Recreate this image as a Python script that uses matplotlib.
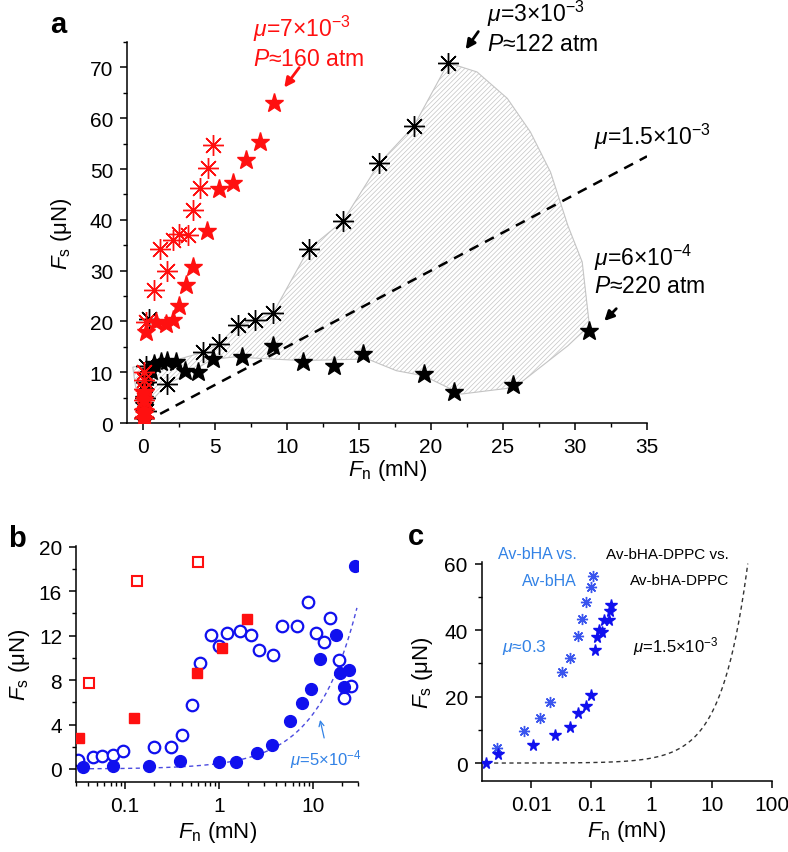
"""Friction data: shear vs normal force for three lubricated surface pairs."""

import matplotlib
matplotlib.use("Agg")
import matplotlib.pyplot as plt
import numpy as np
from matplotlib.ticker import MultipleLocator, NullFormatter

plt.rcParams["font.family"] = ["Liberation Sans", "DejaVu Sans"]
plt.rcParams["mathtext.fontset"] = "custom"
plt.rcParams["mathtext.rm"] = "Liberation Sans"
plt.rcParams["mathtext.it"] = "Liberation Sans:italic"
plt.rcParams["mathtext.bf"] = "Liberation Sans:bold"
plt.rcParams["hatch.linewidth"] = 0.5

# ---- panel a data (Fn in mN, Fs in uN) ----
red_star_x = [0.05, 0.05, 0.07, 0.1, 0.07, 0.2, 0.9, 1.6, 2.06, 2.5, 3.0, 3.45, 4.45, 5.3, 6.25, 7.15, 8.1, 9.1]
red_star_y = [0.8, 1.8, 2.4, 4.5, 6.0, 18.0, 19.9, 19.5, 20.2, 23.0, 27.1, 30.8, 37.7, 46.0, 47.3, 51.7, 55.4, 62.9]
red_ast_x = [0.05, 0.07, 0.07, 0.07, 0.1, 0.1, 0.2, 0.74, 1.67, 1.2, 2.1, 2.5, 3.1, 3.5, 4.0, 4.5, 4.9]
red_ast_y = [1.0, 2.8, 4.5, 6.7, 8.5, 10.0, 19.9, 26.1, 30.0, 34.2, 36.0, 37.2, 37.0, 42.0, 46.2, 50.1, 54.8]
blk_ast_x = [0.1, 0.2, 0.15, 0.2, 0.2, 0.44, 1.7, 4.15, 5.3, 6.6, 7.8, 9.05, 11.5, 13.9, 16.4, 18.8, 21.2]
blk_ast_y = [1.0, 2.4, 5.0, 8.0, 11.3, 20.5, 7.6, 13.9, 15.6, 19.3, 20.2, 21.7, 34.2, 39.8, 51.1, 58.4, 70.9]
blk_star_x = [0.05, 0.1, 0.1, 0.1, 0.14, 0.3, 0.55, 0.8, 1.25, 1.7, 2.3, 2.9, 3.85, 4.9, 6.9, 9.05,
              11.1, 13.3, 15.3, 19.5, 21.6, 25.7, 31.0]
blk_star_y = [0.5, 2.1, 3.5, 4.7, 7.4, 9.0, 10.3, 11.6, 12.1, 12.3, 12.0, 10.3, 10.1, 12.6, 13.0, 15.1,
              12.0, 11.3, 13.6, 9.7, 6.2, 7.4, 18.2]
# outline of the hatched band between the two black data sets
shade_x = [-0.7, 1.0, 2.4, 4.15, 5.3, 6.6, 7.8, 9.05, 11.5, 13.9, 16.4, 18.8, 21.2, 23.2, 25.3, 26.9,
           28.3, 29.5, 30.5, 31.0, 29.5, 25.8, 22.1, 19.5, 17.6, 15.6, 11.0, 6.3, 4.8, 3.0, 1.7, 0.8, -0.5]
shade_y = [11.0, 11.8, 12.5, 13.9, 15.6, 19.3, 20.2, 21.7, 34.2, 39.8, 51.1, 58.4, 70.9, 69.1, 63.9, 57.3,
           49.4, 38.9, 31.7, 19.2, 15.2, 7.0, 5.7, 9.3, 10.3, 12.6, 12.3, 13.0, 12.5, 9.5, 7.7, 5.0, 7.0]
mu_a = 1.5  # uN per mN  (mu = 1.5e-3)
line_a_x = [1.2, 35.0]

# ---- panel b data ----
b_red_fill_x = [0.0325, 0.124, 0.585, 1.06, 1.95]
b_red_fill_y = [2.77, 4.6, 8.66, 10.9, 13.5]
b_red_open_x = [0.041, 0.135, 0.594]
b_red_open_y = [7.76, 16.9, 18.6]
b_blue_fill_x = [0.036, 0.075, 0.18, 0.38, 0.99, 1.51, 2.53, 3.59, 5.61, 7.59, 9.53, 11.7, 17.5, 19.0,
                 23.7, 21.0, 27.4]
b_blue_fill_y = [0.15, 0.24, 0.3, 0.75, 0.6, 0.6, 1.41, 2.17, 4.36, 5.95, 7.2, 9.92, 12.03, 8.63,
                 8.87, 7.37, 18.26]
b_blue_open_x = [0.0318, 0.046, 0.0566, 0.075, 0.0937, 0.203, 0.305, 0.405, 0.509, 0.619, 0.81, 1.0,
                 1.22, 1.64, 2.15, 2.63, 3.7, 4.66, 6.71, 8.77, 10.7, 12.9, 14.9, 18.5, 21.0, 25.3]
b_blue_open_y = [0.84, 1.05, 1.14, 1.26, 1.65, 2.0, 2.0, 3.07, 5.77, 9.53, 12.03, 11.1, 12.2, 12.4,
                 12.1, 10.7, 10.3, 12.9, 12.9, 15.0, 12.2, 11.4, 13.6, 9.77, 6.4, 7.5]
mu_b = 0.5  # uN per mN  (mu = 5e-4)

# ---- panel c data ----
c_star_x = [0.00179, 0.00276, 0.0105, 0.0244, 0.0434, 0.0596, 0.082, 0.098, 0.113, 0.123, 0.136,
            0.149, 0.165, 0.193, 0.205, 0.213]
c_star_y = [0.0, 2.6, 5.5, 8.3, 10.95, 15.0, 17.3, 20.6, 34.1, 37.9, 40.1, 39.4, 42.9, 43.1, 45.9, 47.6]
c_ast_x = [0.0027, 0.00746, 0.0141, 0.0207, 0.0331, 0.0434, 0.059, 0.0695, 0.082, 0.098, 0.106]
c_ast_y = [4.5, 9.5, 13.5, 18.5, 27.3, 31.7, 38.2, 43.2, 48.6, 53.0, 56.3]
mu_c = 1.5  # uN per mN  (mu = 1.5e-3)

RED = "#ff1010"
BLUE = "#1010ee"
LBLUE = "#3282e6"
AST = (8, 2, 0)
FS = 15      # tick labels
LFS = 16     # axis labels
AFS = 16.5   # panel a notes


def style_axes(ax):
    ax.spines["top"].set_visible(False)
    ax.spines["right"].set_visible(False)
    for s in ("left", "bottom"):
        ax.spines[s].set_linewidth(1.1)
    ax.tick_params(which="major", direction="out", length=5, width=1.1, labelsize=FS, pad=5)
    ax.tick_params(which="minor", direction="out", length=3, width=1.0)


fig = plt.figure(figsize=(7.88, 8.53), dpi=100)

# ================= panel a =================
ax = fig.add_axes([0.1612, 0.5029, 0.6599, 0.4467])
ax.fill(shade_x, shade_y, facecolor="white", edgecolor="#c4c4c4", hatch="///////",
        linewidth=0.8, zorder=0)
ax.plot(line_a_x, [mu_a * v for v in line_a_x], color="black", lw=1.8, dashes=(4, 3), zorder=1)
ax.plot(blk_star_x, blk_star_y, ls="none", marker="*", ms=14, color="black", zorder=2)
ax.plot(blk_ast_x, blk_ast_y, ls="none", marker=AST, ms=15, mew=1.0, color="black", zorder=3)
ax.plot(red_star_x, red_star_y, ls="none", marker="*", ms=14, color=RED, zorder=4)
ax.plot(red_ast_x, red_ast_y, ls="none", marker=AST, ms=15, mew=1.0, color=RED, zorder=5)
ax.set_xlim(-1.1, 35)
ax.set_ylim(0, 75)
ax.xaxis.set_major_locator(MultipleLocator(5))
ax.xaxis.set_minor_locator(MultipleLocator(2.5))
ax.yaxis.set_major_locator(MultipleLocator(10))
ax.yaxis.set_minor_locator(MultipleLocator(5))
style_axes(ax)
ax.set_xlabel(r"$F_{\rm n}$ (mN)", fontsize=LFS, labelpad=1)
ax.set_ylabel(r"$F_{\rm s}$ (μN)", fontsize=LFS, labelpad=11)

ax.text(7.66, 77.7, r"$\mu$=7×10$^{-3}$", color=RED, fontsize=AFS, va="center", clip_on=False)
ax.text(7.66, 71.8, r"$P$≈160 atm", color=RED, fontsize=AFS, va="center", clip_on=False)
ax.annotate("", xy=(9.7, 65.6), xytext=(10.97, 70.4),
            arrowprops=dict(arrowstyle="-|>", color=RED, lw=2, mutation_scale=14), annotation_clip=False)
ax.text(23.9, 80.7, r"$\mu$=3×10$^{-3}$", fontsize=AFS, va="center", clip_on=False)
ax.text(23.9, 74.8, r"$P$≈122 atm", fontsize=AFS, va="center", clip_on=False)
ax.annotate("", xy=(22.3, 73.1), xytext=(23.4, 77.5),
            arrowprops=dict(arrowstyle="-|>", color="black", lw=2, mutation_scale=14), annotation_clip=False)
ax.text(31.3, 56.6, r"$\mu$=1.5×10$^{-3}$", fontsize=AFS, va="center", clip_on=False)
ax.text(31.3, 32.7, r"$\mu$=6×10$^{-4}$", fontsize=AFS, va="center", clip_on=False)
ax.text(31.3, 27.0, r"$P$≈220 atm", fontsize=AFS, va="center", clip_on=False)
ax.annotate("", xy=(31.9, 19.7), xytext=(33.0, 22.9),
            arrowprops=dict(arrowstyle="-|>", color="black", lw=2, mutation_scale=14), annotation_clip=False)

# ================= panel b =================
bx = fig.add_axes([0.0964, 0.0817, 0.3583, 0.2774])
fx = np.logspace(np.log10(0.035), np.log10(29), 200)
bx.plot(fx, mu_b * fx, color="#4b4be0", lw=1.0, dashes=(3, 2.5), zorder=1)
bx.plot(b_red_fill_x, b_red_fill_y, ls="none", marker="s", ms=6.5, color=RED, zorder=3)
bx.plot(b_red_open_x, b_red_open_y, ls="none", marker="s", ms=6.5, mfc="white", mec=RED, mew=1.5, zorder=3)
bx.plot(b_blue_open_x, b_blue_open_y, ls="none", marker="o", ms=8.3, mfc="white", mec=BLUE, mew=1.6, zorder=2)
bx.plot(b_blue_fill_x, b_blue_fill_y, ls="none", marker="o", ms=8.5, color=BLUE, zorder=2)
bx.set_xscale("log")
bx.set_xlim(0.03, 30)
bx.set_ylim(-1.2, 20.1)
bx.set_xticks([0.1, 1, 10])
bx.set_xticklabels(["0.1", "1", "10"])
bx.xaxis.set_minor_formatter(NullFormatter())
bx.yaxis.set_major_locator(MultipleLocator(4))
bx.yaxis.set_minor_locator(MultipleLocator(2))
style_axes(bx)
bx.set_xlabel(r"$F_{\rm n}$ (mN)", fontsize=LFS, labelpad=3)
bx.set_ylabel(r"$F_{\rm s}$ (μN)", fontsize=LFS, labelpad=5)
bx.text(13.5, 0.9, r"$\mu$=5×10$^{-4}$", color=LBLUE, fontsize=12, ha="center", va="center")
bx.annotate("", xy=(11.6, 4.66), xytext=(13.2, 2.55),
            arrowprops=dict(arrowstyle="->", color=LBLUE, lw=0.9, mutation_scale=9))

# ================= panel c =================
cx = fig.add_axes([0.6113, 0.0836, 0.368, 0.2564])
fx = np.logspace(np.log10(0.0018), np.log10(40), 200)
cx.plot(fx, mu_c * fx, color="#333333", lw=1.0, dashes=(3, 2.5), zorder=1)
cx.plot(c_ast_x, c_ast_y, ls="none", marker=AST, ms=8, mew=1.0, color="#3a55ee", zorder=2)
cx.plot(c_star_x, c_star_y, ls="none", marker="*", ms=8.5, color=BLUE, zorder=3)
cx.set_xscale("log")
cx.set_xlim(0.0015, 100)
cx.set_ylim(-5.3, 60.5)
cx.set_xticks([0.01, 0.1, 1, 10, 100])
cx.set_xticklabels(["0.01", "0.1", "1", "10", "100"])
cx.xaxis.set_minor_formatter(NullFormatter())
cx.yaxis.set_major_locator(MultipleLocator(20))
cx.yaxis.set_minor_locator(MultipleLocator(10))
style_axes(cx)
cx.set_xlabel(r"$F_{\rm n}$ (mN)", fontsize=LFS, labelpad=3)
cx.set_ylabel(r"$F_{\rm s}$ (μN)", fontsize=LFS, labelpad=7)
cx.text(0.0574, 63.0, "Av-bHA vs.", color=LBLUE, fontsize=11.5, ha="right", va="center", clip_on=False)
cx.text(0.0574, 54.9, "Av-bHA", color=LBLUE, fontsize=11.5, ha="right", va="center")
cx.text(19.5, 63.0, "Av-bHA-DPPC vs.", fontsize=11, ha="right", va="center", clip_on=False)
cx.text(19.5, 55.2, "Av-bHA-DPPC", fontsize=11, ha="right", va="center")
cx.text(0.00326, 35.0, r"$\mu$≈0.3", color=LBLUE, fontsize=12.5, va="center")
cx.text(0.494, 35.3, r"$\mu$=1.5×10$^{-3}$", fontsize=12, va="center")

# panel letters
fig.text(0.0635, 0.961, "a", fontsize=21, fontweight="bold")
fig.text(0.010, 0.359, "b", fontsize=21, fontweight="bold")
fig.text(0.518, 0.361, "c", fontsize=21, fontweight="bold")

fig.savefig("out.png", dpi=100)
